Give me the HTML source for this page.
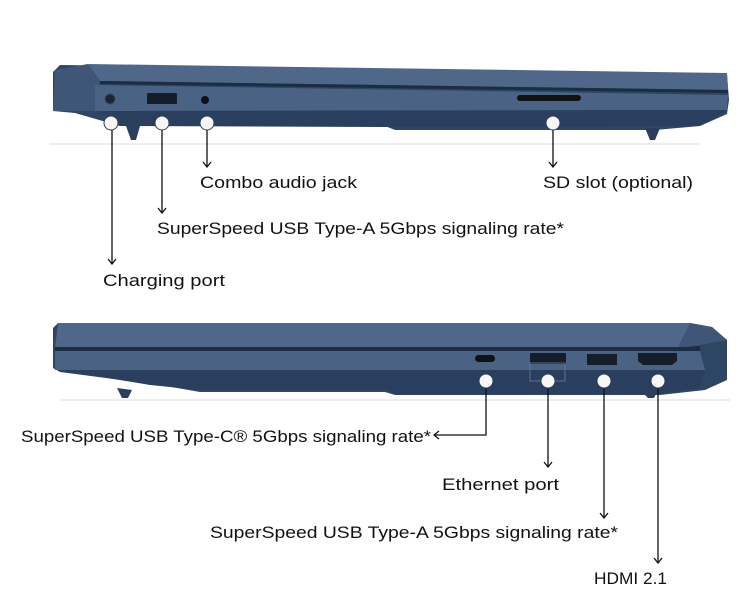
<!DOCTYPE html>
<html><head><style>
body{margin:0;background:#fff;}
svg{display:block;}
text{font-family:"Liberation Sans",sans-serif;fill:#111;}
</style></head><body>
<svg width="747" height="594" viewBox="0 0 747 594" xmlns="http://www.w3.org/2000/svg">
<defs>
<marker id="a" viewBox="0 0 10 10" refX="9" refY="5" markerWidth="10" markerHeight="10" orient="auto" markerUnits="userSpaceOnUse">
<path d="M4 1 L9 5 L4 9" fill="none" stroke="#111" stroke-width="1.3"/></marker>
</defs>
<!-- top laptop -->
<g>
<path d="M60 65 L727 74 L729 100 L727 114 L700 126 L655 130 L395 130 L385 126 L120 126 L75 113 L53 111 L53 72 Z" fill="#2e4564"/>
<path d="M88 64 L727 73 L728 90 L100 81 Z" fill="#4f6889"/>
<path d="M100 81 L728 90 L728 93 L98 84 Z" fill="#1c2c42"/>
<path d="M55 70 L88 64 L100 82 L95 111 L53 111 Z" fill="#3f5678"/>
<path d="M95 85 L728 95 L727 110 L95 111 Z" fill="#4a6284"/>
<path d="M100 111 L727 110 L700 126 L395 127 L120 126 Z" fill="#2a3f5d"/>
<path d="M126 126 L140 126 L136 140 L131 140 Z" fill="#2a3f5d"/>
<path d="M645 128 L660 128 L655 140 L650 140 Z" fill="#2a3f5d"/>
<line x1="50" y1="144" x2="700" y2="144" stroke="#eee" stroke-width="2"/>
<circle cx="110" cy="99" r="5" fill="#1a2433" stroke="#3a4a60"/>
<rect x="147" y="93" width="30" height="11" rx="1" fill="#151d2a"/>
<circle cx="205" cy="100" r="4" fill="#111"/>
<rect x="517" y="95" width="64" height="6" rx="3" fill="#111"/>
</g>
<!-- bottom laptop -->
<g>
<path d="M58 323 L690 323 L712 327 L727 340 L727 380 L705 390 L660 395 L395 395 L385 392 L200 392 L160 385 L60 372 L53 368 L53 328 Z" fill="#2e4564"/>
<path d="M58 323 L690 323 L678 348 L55 348 Z" fill="#4f6889"/>
<path d="M690 323 L712 327 L727 340 L700 345 L678 348 Z" fill="#3f5678"/>
<path d="M55 347 L690 347 L700 346 L700 351 L55 351 Z" fill="#1c2c42"/>
<path d="M55 351 L700 351 L705 370 L55 370 Z" fill="#4a6284"/>
<path d="M60 370 L705 370 L700 388 L660 394 L395 394 L385 390 L200 390 L150 385 Z" fill="#2a3f5d"/>
<path d="M117 388 L132 390 L128 398 L122 398 Z" fill="#2a3f5d"/>
<path d="M640 390 L658 390 L654 398 L648 398 Z" fill="#2a3f5d"/>
<line x1="60" y1="400" x2="730" y2="400" stroke="#eee" stroke-width="2"/>
<rect x="475" y="355" width="20" height="7" rx="3.5" fill="#111"/>
<rect x="530" y="353" width="36" height="11" fill="#151d2a"/>
<rect x="530" y="363" width="35" height="18" fill="none" stroke="#6a7d96" stroke-width="0.8"/>
<rect x="587" y="354" width="30" height="11" fill="#151d2a"/>
<path d="M638 353 L677 353 L677 361 L672 365 L643 365 L638 361 Z" fill="#151d2a"/>
</g>
<!-- connectors -->
<g stroke="#111" stroke-width="1.3" fill="none">
<line x1="112" y1="122" x2="112" y2="264" marker-end="url(#a)"/>
<line x1="162" y1="122" x2="162" y2="213" marker-end="url(#a)"/>
<line x1="207" y1="122" x2="207" y2="167" marker-end="url(#a)"/>
<line x1="553" y1="122" x2="553" y2="167" marker-end="url(#a)"/>
<polyline points="486,381 486,435 434,435" marker-end="url(#a)"/>
<line x1="548" y1="381" x2="548" y2="467" marker-end="url(#a)"/>
<line x1="604" y1="381" x2="604" y2="518" marker-end="url(#a)"/>
<line x1="658" y1="381" x2="658" y2="563" marker-end="url(#a)"/>
</g>
<g fill="#f6f6f6" stroke="#2a3f5d" stroke-width="1">
<circle cx="111" cy="123" r="7"/><circle cx="162" cy="123" r="7"/><circle cx="207" cy="123" r="7"/><circle cx="553" cy="123" r="7"/>
<circle cx="486" cy="381" r="7"/><circle cx="548" cy="381" r="7"/><circle cx="604" cy="381" r="7"/><circle cx="658" cy="381" r="7"/>
</g>
<g font-size="17">
<text x="200" y="188" textLength="157" lengthAdjust="spacingAndGlyphs">Combo audio jack</text>
<text x="543" y="188" textLength="150" lengthAdjust="spacingAndGlyphs">SD slot (optional)</text>
<text x="157" y="234" textLength="407" lengthAdjust="spacingAndGlyphs">SuperSpeed USB Type-A 5Gbps signaling rate*</text>
<text x="103" y="286" textLength="122" lengthAdjust="spacingAndGlyphs">Charging port</text>
<text x="21" y="442" textLength="410" lengthAdjust="spacingAndGlyphs">SuperSpeed USB Type-C® 5Gbps signaling rate*</text>
<text x="442" y="490" textLength="117" lengthAdjust="spacingAndGlyphs">Ethernet port</text>
<text x="210" y="538" textLength="408" lengthAdjust="spacingAndGlyphs">SuperSpeed USB Type-A 5Gbps signaling rate*</text>
<text x="594" y="584" textLength="73" lengthAdjust="spacingAndGlyphs">HDMI 2.1</text>
</g>
</svg>
</body></html>
